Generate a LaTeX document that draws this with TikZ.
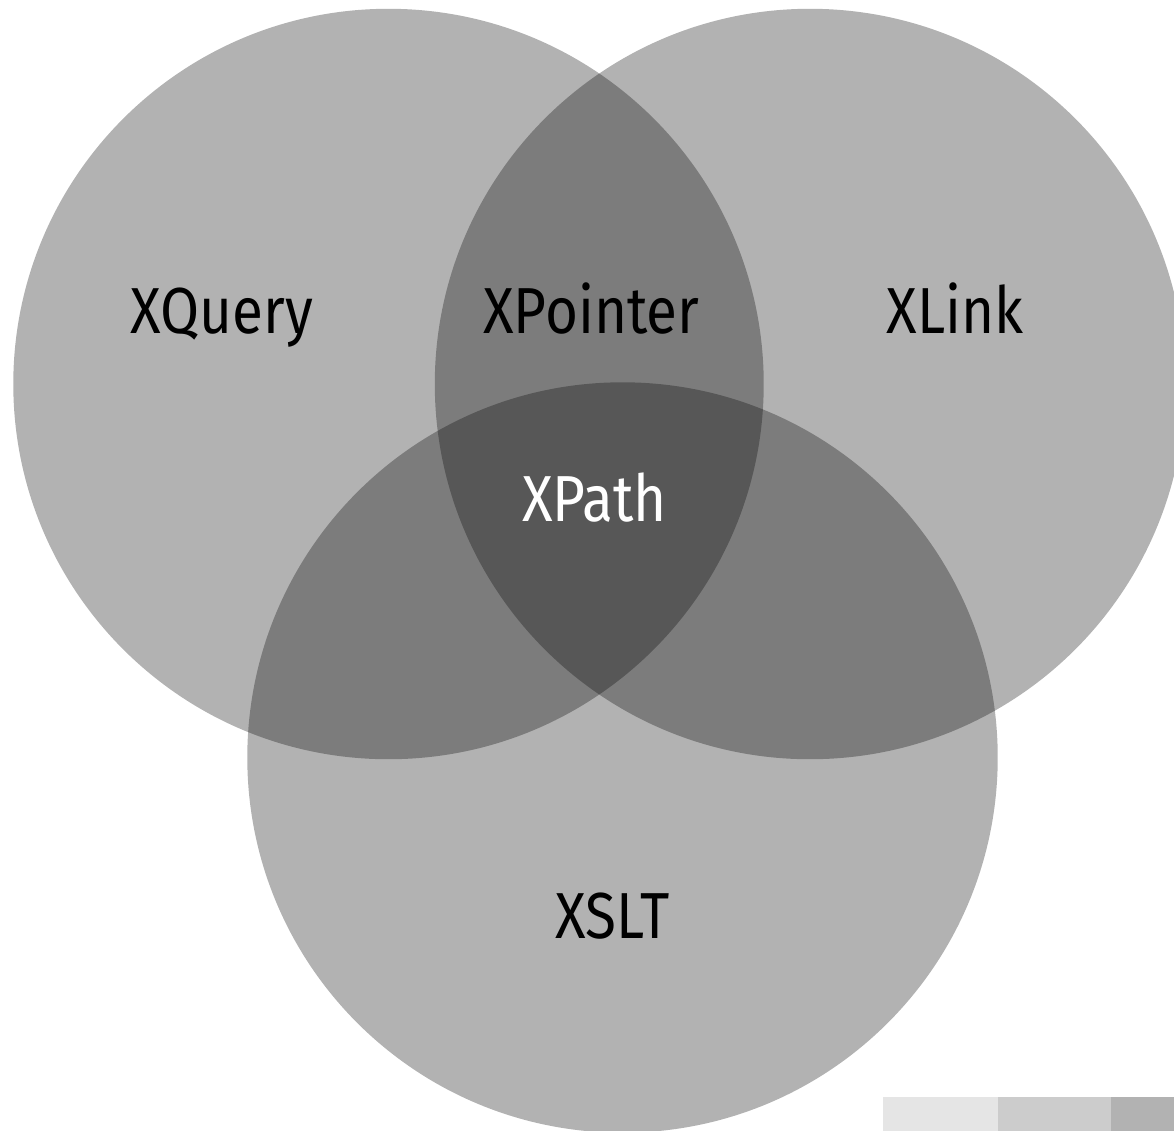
\documentclass[tikz,border=0pt]{standalone}
\usepackage{fontspec}
\setmainfont{Fira Sans}[FakeStretch=0.87]
\usetikzlibrary{positioning}
\definecolor{keylight}{HTML}{E5E5E5}
\definecolor{keymid}{HTML}{CCCCCC}
\definecolor{keydark}{HTML}{B2B2B2}
\tikzset{
    venn/.style={circle,inner sep=0pt,minimum size=7.5cm,fill=black,fill opacity=0.3},
    lbl/.style={anchor=base,inner sep=0pt,font=\fontsize{18.5pt}{22pt}\selectfont,text=black},
    keybox/.style={inner sep=0pt,anchor=north west,minimum height=0.34cm}
}
\begin{document}
\begin{tikzpicture}[x=0.01cm,y=-0.01cm]
    \useasboundingbox (0,0) rectangle (1174,1130);
    \clip (0,0) rectangle (1174,1130);

    % the three sets
    \node[venn] (xquery) at (388.5, 384) {};
    \node[venn] (xlink) at (810, 384) {};
    \node[venn] (xslt) at (622.5, 757.5) {};

    \node[lbl] (lquery) at (222, 333) {XQuery};
    \node[lbl] (lpointer) at (591.5, 333) {XPointer};
    \node[lbl] (llink) at (955, 333) {XLink};
    \node[lbl,text=white] (lpath) at (594.5, 521.5) {XPath};
    \node[lbl] (lslt) at (612.5, 938) {XSLT};

    % key
    \node[keybox,fill=keylight,minimum width=1.15cm] (k1) at (882, 1096) {};
    \node[keybox,fill=keymid,minimum width=1.13cm] (k2) at (997, 1096) {};
    \node[keybox,fill=keydark,minimum width=0.64cm] (k3) at (1110, 1096) {};
\end{tikzpicture}
\end{document}
